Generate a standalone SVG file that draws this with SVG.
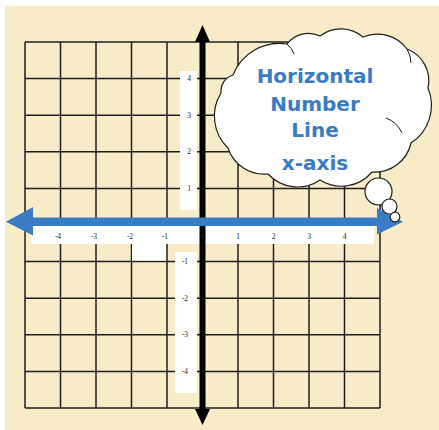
<svg xmlns="http://www.w3.org/2000/svg" width="439" height="430" viewBox="0 0 439 430">
  <defs>
    <style>
      .grid line { stroke: #1e1e1e; stroke-width: 1.5; }
      .strip { fill: #ffffff; }
      .tick { font-family: "Liberation Serif", "DejaVu Serif", serif; font-size: 7.5px; fill: #222222; text-anchor: middle; }
      .cloud { fill: #ffffff; stroke: #1e1e1e; stroke-width: 1.2; }
      .crease { fill: none; stroke: #1e1e1e; stroke-width: 1; }
      .label { font-family: "DejaVu Sans", "Verdana", sans-serif; font-weight: bold; font-size: 20px; fill: #3a7cc4; text-anchor: middle; }
    </style>
  </defs>

  <!-- background -->
  <rect x="0" y="0" width="439" height="430" fill="#ffffff"/>
  <rect x="5" y="6" width="434" height="424" fill="#f8ebc7"/>

  <!-- grid -->
  <g id="grid" class="grid">
    <line x1="25" y1="42" x2="25" y2="408"/>
    <line x1="60.5" y1="42" x2="60.5" y2="408"/>
    <line x1="96" y1="42" x2="96" y2="408"/>
    <line x1="131.5" y1="42" x2="131.5" y2="408"/>
    <line x1="167" y1="42" x2="167" y2="408"/>
    <line x1="238" y1="42" x2="238" y2="408"/>
    <line x1="273.5" y1="42" x2="273.5" y2="408"/>
    <line x1="309" y1="42" x2="309" y2="408"/>
    <line x1="344.5" y1="42" x2="344.5" y2="408"/>
    <line x1="380" y1="42" x2="380" y2="408"/>
    <line x1="25" y1="42" x2="380" y2="42"/>
    <line x1="25" y1="78.6" x2="380" y2="78.6"/>
    <line x1="25" y1="115.2" x2="380" y2="115.2"/>
    <line x1="25" y1="151.8" x2="380" y2="151.8"/>
    <line x1="25" y1="188.4" x2="380" y2="188.4"/>
    <line x1="25" y1="261.6" x2="380" y2="261.6"/>
    <line x1="25" y1="298.2" x2="380" y2="298.2"/>
    <line x1="25" y1="334.8" x2="380" y2="334.8"/>
    <line x1="25" y1="371.4" x2="380" y2="371.4"/>
    <line x1="25" y1="408" x2="380" y2="408"/>
  </g>

  <!-- white label strips -->
  <g id="strips">
    <rect class="strip" x="31" y="226" width="343" height="18"/>
    <rect class="strip" x="132" y="243" width="34" height="17.5"/>
    <rect class="strip" x="180" y="71" width="17" height="139"/>
    <rect class="strip" x="175" y="252" width="22" height="141"/>
  </g>

  <!-- axes -->
  <g id="connectors">
    <g id="y-axis">
      <rect x="199.5" y="40" width="6" height="371" fill="#000000"/>
      <polygon points="202.5,25 210,42 195,42" fill="#000000"/>
      <polygon points="202.5,425 210,409 195,409" fill="#000000"/>
    </g>
    <g id="x-axis">
      <rect x="32" y="217.5" width="346" height="8.5" fill="#3a7cc4"/>
      <polygon points="6,221.7 33,207 33,235.5" fill="#3a7cc4"/>
      <polygon points="403,221.7 377,208 377,234.5" fill="#3a7cc4"/>
    </g>
  </g>

  <!-- tick labels -->
  <g id="x-ticks" class="tick">
    <text x="58" y="239">-4</text>
    <text x="94" y="239">-3</text>
    <text x="130" y="239">-2</text>
    <text x="165" y="239">-1</text>
    <text x="202.5" y="239">0</text>
    <text x="238" y="239">1</text>
    <text x="273.5" y="239">2</text>
    <text x="309" y="239">3</text>
    <text x="344.5" y="239">4</text>
  </g>
  <g id="y-ticks" class="tick">
    <text x="189" y="81">4</text>
    <text x="189" y="117.5">3</text>
    <text x="189" y="154">2</text>
    <text x="189" y="190.5">1</text>
    <text x="185" y="263.5">-1</text>
    <text x="185" y="300.5">-2</text>
    <text x="185" y="337">-3</text>
    <text x="185" y="374">-4</text>
  </g>

  <!-- thought cloud -->
  <g id="cloud">
    <path class="cloud" d="M233,75 A50,50 0 0 1 287,44 A27,27 0 0 1 320,36 A34,34 0 0 1 363,37 A37,37 0 0 1 407,49 A34,34 0 0 1 428,88 A45,45 0 0 1 411,143 A37,37 0 0 1 372,172 A40,40 0 0 1 320,180 A40,40 0 0 1 268,174 A38,38 0 0 1 228,148 A44,44 0 0 1 221,93 A17,17 0 0 1 233,75 Z"/>
    <path class="crease" d="M386,118 Q397,122 402,133"/>
    <path class="crease" d="M407,49 Q411,56 411,63"/>
    <path class="crease" d="M287,44 Q292,48 294,54"/>
    <text class="label" x="315" y="83">Horizontal</text>
    <text class="label" x="315" y="111">Number</text>
    <text class="label" x="315" y="137">Line</text>
    <text class="label" x="315" y="170">x-axis</text>
  </g>
  <g id="bubbles">
    <circle class="cloud" cx="378.5" cy="191.5" r="13.5"/>
    <circle class="cloud" cx="389.5" cy="206.5" r="7.5"/>
    <circle class="cloud" cx="395" cy="217" r="4.8"/>
  </g>
</svg>
